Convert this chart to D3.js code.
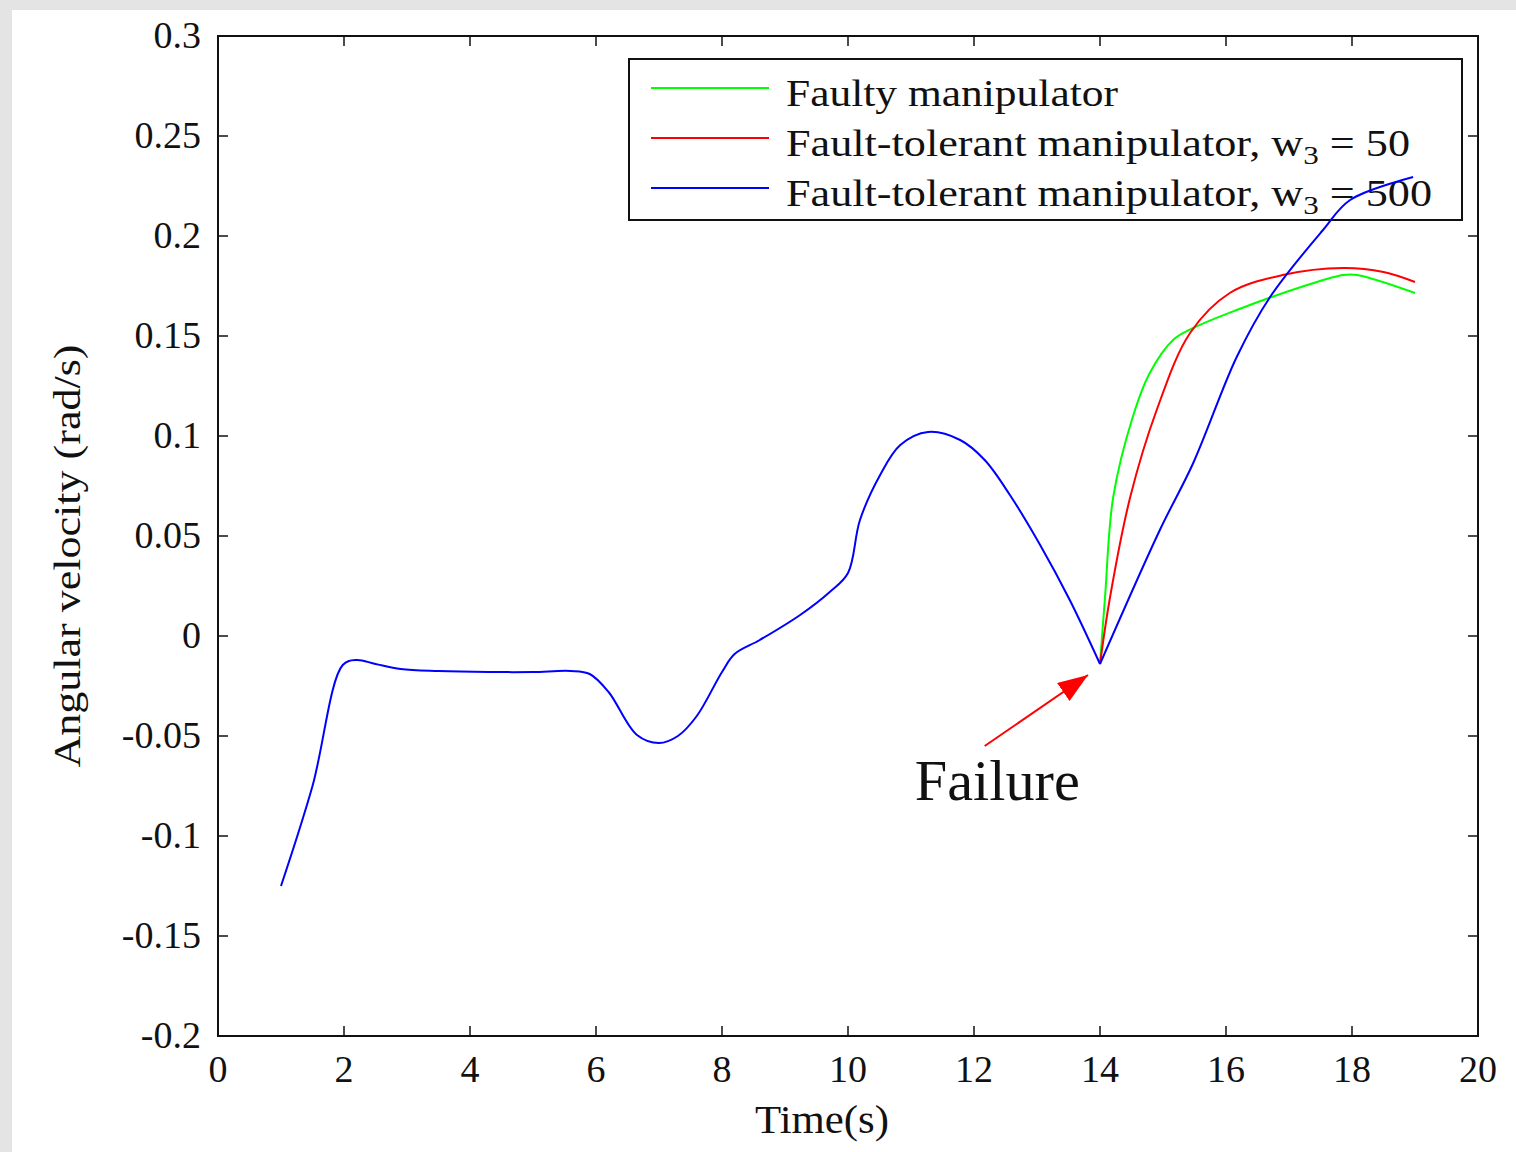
<!DOCTYPE html>
<html>
<head>
<meta charset="utf-8">
<script src="https://cdn.jsdelivr.net/npm/d3@7"></script>
<style>
  html, body { margin: 0; padding: 0; background: #e4e4e4; }
  svg { display: block; }
  text { font-family: "Liberation Serif", "DejaVu Serif", serif; fill: #111; }
</style>
</head>
<body>
<svg id="chart" width="1516" height="1152"></svg>
<script>
// --- data ---
// common trajectory before the failure at t = 14 s
const commonT = [1, 1.5, 1.98, 2.2, 2.5, 2.9, 3.5, 4.3, 5.0, 5.6, 5.9, 6.2, 6.65, 7.0, 7.3, 7.6, 8.0, 8.2, 8.6, 9.24, 9.71, 10.0, 10.19, 10.51, 10.83, 11.27, 11.78, 12.17, 12.57, 13.05, 13.52, 14.0];
const commonV = [-0.125, -0.075, -0.0145, -0.012, -0.014, -0.0165, -0.0175, -0.018, -0.018, -0.0175, -0.019, -0.028, -0.0495, -0.0535, -0.050, -0.040, -0.018, -0.009, -0.002, 0.0105, 0.022, 0.0315, 0.058, 0.0805, 0.0955, 0.102, 0.098, 0.088, 0.0705, 0.0455, 0.018, -0.014];

// after the failure
const faultyT = [14.0, 14.08, 14.21, 14.52, 14.79, 15.16, 15.48, 16.17, 17.29, 17.86, 18.08, 19.0];
const faultyV = [-0.014, 0.0195, 0.0695, 0.1095, 0.1315, 0.148, 0.154, 0.163, 0.1755, 0.1805, 0.1805, 0.1715];

const w50T = [14.0, 14.16, 14.48, 14.9, 15.43, 16.06, 16.9, 17.86, 18.5, 19.0];
const w50V = [-0.014, 0.0195, 0.0695, 0.113, 0.1515, 0.1715, 0.1805, 0.184, 0.182, 0.177];

const w500T = [14.0, 14.95, 15.48, 16.17, 16.7, 17.54, 17.97, 18.97];
const w500V = [-0.014, 0.053, 0.0865, 0.1395, 0.1695, 0.203, 0.218, 0.2295];

const xTicks = [0, 2, 4, 6, 8, 10, 12, 14, 16, 18, 20];
const yTicks = [0.3, 0.25, 0.2, 0.15, 0.1, 0.05, 0, -0.05, -0.1, -0.15, -0.2];
const yTickLabels = ['0.3', '0.25', '0.2', '0.15', '0.1', '0.05', '0', '-0.05', '-0.1', '-0.15', '-0.2'];

const legendLabels = ['Faulty manipulator', 'Fault-tolerant manipulator, w', 'Fault-tolerant manipulator, w'];
const legendSuffix = ['', ' = 50', ' = 500'];
const legendWidths = [332, 624, 646];
const colors = ['#00ff00', '#ff0000', '#0000ff'];

// failure annotation (data coords)
const failTail = [12.17, -0.055];
const failTip = [13.81, -0.0195];
const failText = [11.06, -0.082];

const zip = (ts, vs) => ts.map((t, i) => ({ t, v: vs[i] }));

// --- layout ---
const svg = d3.select('#chart');
svg.append('rect').attr('x', 12).attr('y', 10).attr('width', 1504).attr('height', 1142).attr('fill', '#fff');

const m = { left: 218, top: 36, right: 1478, bottom: 1036 };
const x = d3.scaleLinear().domain([0, 20]).range([m.left, m.right]);
const y = d3.scaleLinear().domain([-0.2, 0.3]).range([m.bottom, m.top]);

const tickLen = 10;
const axes = svg.append('g');

// ticks on all four sides, pointing inward
axes.selectAll('.xtb').data(xTicks).join('line')
  .attr('x1', d => x(d)).attr('x2', d => x(d))
  .attr('y1', m.bottom).attr('y2', m.bottom - tickLen)
  .attr('stroke', '#111').attr('stroke-width', 1.5);
axes.selectAll('.xtt').data(xTicks).join('line')
  .attr('x1', d => x(d)).attr('x2', d => x(d))
  .attr('y1', m.top).attr('y2', m.top + tickLen)
  .attr('stroke', '#111').attr('stroke-width', 1.5);
axes.selectAll('.ytl').data(yTicks).join('line')
  .attr('x1', m.left).attr('x2', m.left + tickLen)
  .attr('y1', d => y(d)).attr('y2', d => y(d))
  .attr('stroke', '#111').attr('stroke-width', 1.5);
axes.selectAll('.ytr').data(yTicks).join('line')
  .attr('x1', m.right).attr('x2', m.right - tickLen)
  .attr('y1', d => y(d)).attr('y2', d => y(d))
  .attr('stroke', '#111').attr('stroke-width', 1.5);

// tick labels
axes.selectAll('.xl').data(xTicks).join('text')
  .attr('x', d => x(d)).attr('y', 1082)
  .attr('text-anchor', 'middle').attr('font-size', 38)
  .text(d => d);
axes.selectAll('.yl').data(yTicks).join('text')
  .attr('x', 201).attr('y', d => y(d) + 12)
  .attr('text-anchor', 'end').attr('font-size', 38)
  .text((d, i) => yTickLabels[i]);

// axis titles
svg.append('text').attr('x', 822).attr('y', 1133)
  .attr('text-anchor', 'middle').attr('font-size', 40)
  .attr('textLength', 134).attr('lengthAdjust', 'spacingAndGlyphs').text('Time(s)');
svg.append('text')
  .attr('transform', 'translate(80,556) rotate(-90)')
  .attr('text-anchor', 'middle').attr('font-size', 38)
  .attr('textLength', 423).attr('lengthAdjust', 'spacingAndGlyphs')
  .text('Angular velocity (rad/s)');

// --- legend ---
const lg = svg.append('g');
lg.append('rect').attr('x', 629).attr('y', 59).attr('width', 833).attr('height', 161)
  .attr('fill', '#fff').attr('stroke', '#111').attr('stroke-width', 2);
legendLabels.forEach((lab, i) => {
  const ly = 88 + i * 50;
  lg.append('line').attr('x1', 651).attr('x2', 769).attr('y1', ly).attr('y2', ly)
    .attr('stroke', colors[i]).attr('stroke-width', 2);
  const t = lg.append('text').attr('x', 786).attr('y', ly + 18).attr('font-size', 37)
    .attr('textLength', legendWidths[i]).attr('lengthAdjust', 'spacingAndGlyphs');
  t.append('tspan').text(lab);
  if (legendSuffix[i]) {
    t.append('tspan').attr('font-size', 26).attr('dy', 8).text('3');
    t.append('tspan').attr('dy', -8).text(legendSuffix[i]);
  }
});

// --- lines (drawn over the legend, as in the reference) ---
const line = d3.line().x(d => x(d.t)).y(d => y(d.v)).curve(d3.curveCatmullRom.alpha(0.5));
const plot = svg.append('g');
const branches = [zip(faultyT, faultyV), zip(w50T, w50V), zip(w500T, w500V)];
branches.forEach((b, i) => {
  plot.append('path').datum(b).attr('d', line)
    .attr('fill', 'none').attr('stroke', colors[i]).attr('stroke-width', 2);
});
plot.append('path').datum(zip(commonT, commonV)).attr('d', line)
  .attr('fill', 'none').attr('stroke', colors[2]).attr('stroke-width', 2);

// frame
svg.append('rect').attr('x', m.left).attr('y', m.top)
  .attr('width', m.right - m.left).attr('height', m.bottom - m.top)
  .attr('fill', 'none').attr('stroke', '#111').attr('stroke-width', 2);

// --- failure annotation ---
const defs = svg.append('defs');
defs.append('marker').attr('id', 'ah').attr('viewBox', '0 0 10 10')
  .attr('refX', 10).attr('refY', 5).attr('markerWidth', 30).attr('markerHeight', 22)
  .attr('markerUnits', 'userSpaceOnUse').attr('orient', 'auto')
  .attr('preserveAspectRatio', 'none')
  .append('path').attr('d', 'M0,0 L10,5 L0,10 Z').attr('fill', '#ff0000');
svg.append('line')
  .attr('x1', x(failTail[0])).attr('y1', y(failTail[1]))
  .attr('x2', x(failTip[0])).attr('y2', y(failTip[1]))
  .attr('stroke', '#ff0000').attr('stroke-width', 2).attr('marker-end', 'url(#ah)');
svg.append('text').attr('x', x(failText[0])).attr('y', y(failText[1]))
  .attr('font-size', 56).attr('textLength', 165).attr('lengthAdjust', 'spacingAndGlyphs')
  .text('Failure');
</script>
</body>
</html>
